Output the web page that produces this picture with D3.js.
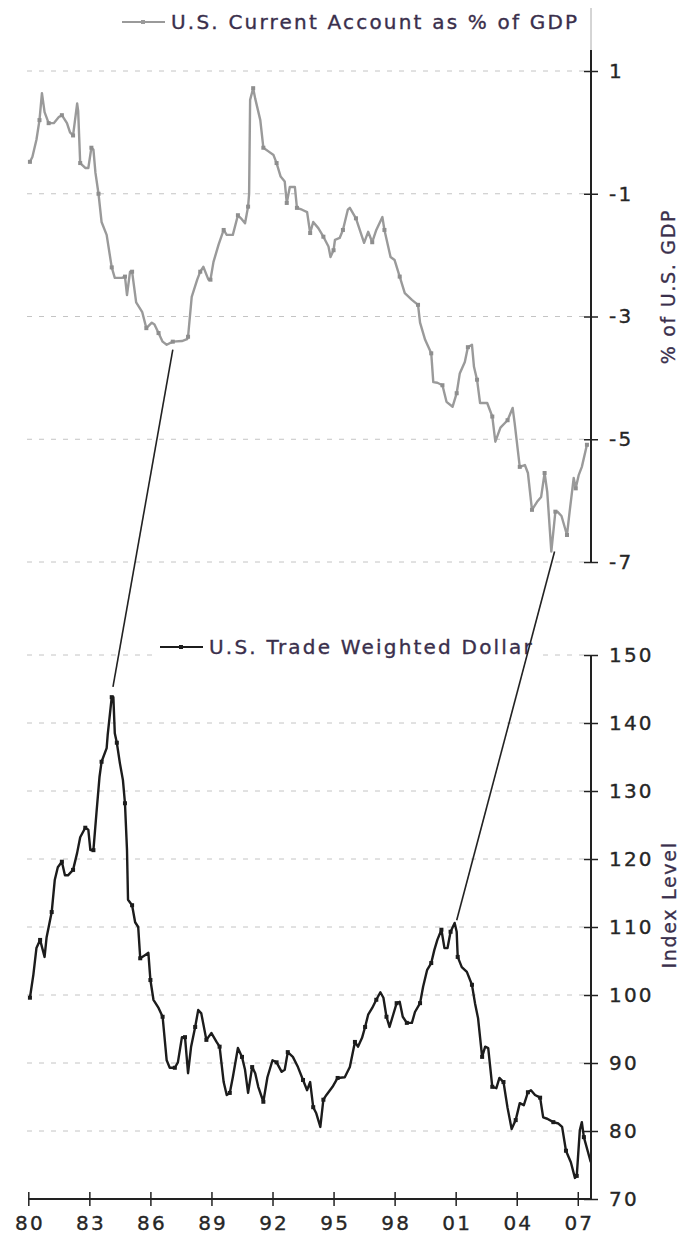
<!DOCTYPE html>
<html><head><meta charset="utf-8">
<script src="https://cdn.jsdelivr.net/npm/d3@7"></script>
<style>
body{margin:0;background:#fff}
svg text{font-family:"DejaVu Sans",Verdana,sans-serif}
</style>
</head><body>
<svg id="c" width="691" height="1239"></svg>
<script>
// ---- data ----
const caYears=[1980.08,1980.2,1980.4,1980.55,1980.67,1980.8,1981.0,1981.25,1981.5,1981.65,1981.9,1982.05,1982.2,1982.4,1982.45,1982.55,1982.8,1982.95,1983.1,1983.2,1983.3,1983.45,1983.6,1983.85,1984.1,1984.25,1984.6,1984.75,1984.85,1985.0,1985.1,1985.3,1985.6,1985.8,1986.07,1986.2,1986.4,1986.6,1986.8,1987.1,1987.55,1987.8,1987.85,1988.03,1988.3,1988.45,1988.6,1988.85,1988.95,1989.1,1989.35,1989.6,1989.75,1990.05,1990.3,1990.45,1990.65,1990.8,1990.85,1990.9,1991.05,1991.15,1991.4,1991.55,1991.8,1992.05,1992.2,1992.4,1992.6,1992.7,1992.85,1993.1,1993.2,1993.45,1993.7,1993.85,1994.0,1994.25,1994.5,1994.75,1994.85,1995.0,1995.07,1995.3,1995.46,1995.7,1995.8,1996.1,1996.5,1996.7,1996.9,1997.1,1997.4,1997.5,1997.8,1998.0,1998.25,1998.5,1998.85,1999.15,1999.25,1999.5,1999.8,1999.9,2000.1,2000.35,2000.55,2000.85,2001.05,2001.2,2001.45,2001.6,2001.8,2001.9,2002.05,2002.2,2002.55,2002.8,2002.95,2003.2,2003.55,2003.8,2003.9,2004.15,2004.4,2004.55,2004.75,2005.0,2005.2,2005.37,2005.5,2005.7,2005.9,2006.0,2006.2,2006.47,2006.6,2006.8,2006.9,2007.05,2007.2,2007.45];
const caValues=[-0.48,-0.4,-0.12,0.2,0.64,0.33,0.15,0.15,0.25,0.28,0.15,0.0,-0.05,0.47,0.35,-0.5,-0.58,-0.58,-0.25,-0.28,-0.66,-1.0,-1.46,-1.67,-2.2,-2.37,-2.37,-2.35,-2.65,-2.27,-2.27,-2.77,-2.93,-3.19,-3.1,-3.13,-3.27,-3.41,-3.46,-3.41,-3.4,-3.37,-3.33,-2.68,-2.4,-2.27,-2.19,-2.4,-2.4,-2.11,-1.83,-1.59,-1.67,-1.67,-1.35,-1.4,-1.48,-1.21,-1.0,0.53,0.72,0.55,0.2,-0.25,-0.31,-0.37,-0.5,-0.72,-0.8,-1.15,-0.89,-0.89,-1.23,-1.26,-1.3,-1.64,-1.46,-1.56,-1.7,-1.86,-2.03,-1.92,-1.75,-1.72,-1.59,-1.26,-1.23,-1.4,-1.8,-1.62,-1.79,-1.59,-1.38,-1.59,-2.03,-2.08,-2.35,-2.62,-2.73,-2.81,-3.1,-3.38,-3.6,-4.07,-4.08,-4.12,-4.39,-4.47,-4.25,-3.93,-3.74,-3.5,-3.46,-3.82,-4.03,-4.41,-4.41,-4.63,-5.04,-4.81,-4.69,-4.49,-4.74,-5.45,-5.42,-5.55,-6.15,-6.02,-5.94,-5.55,-5.86,-6.83,-6.18,-6.18,-6.25,-6.56,-6.18,-5.63,-5.8,-5.58,-5.45,-5.09];

const twYears=[1980.08,1980.25,1980.4,1980.58,1980.8,1980.9,1981.15,1981.3,1981.45,1981.65,1981.8,1981.95,1982.2,1982.4,1982.55,1982.8,1982.95,1983.05,1983.2,1983.35,1983.5,1983.6,1983.85,1983.9,1984.1,1984.18,1984.25,1984.35,1984.5,1984.65,1984.75,1984.85,1984.9,1985.1,1985.25,1985.4,1985.5,1985.75,1985.9,1986.0,1986.15,1986.4,1986.6,1986.8,1986.95,1987.2,1987.35,1987.55,1987.7,1987.85,1988.0,1988.2,1988.35,1988.5,1988.75,1989.0,1989.25,1989.4,1989.6,1989.75,1989.9,1990.05,1990.3,1990.5,1990.65,1990.8,1991.0,1991.15,1991.3,1991.55,1991.75,1992.0,1992.2,1992.45,1992.6,1992.75,1993.0,1993.25,1993.5,1993.7,1993.85,1994.0,1994.15,1994.35,1994.5,1994.65,1994.95,1995.2,1995.55,1995.8,1996.05,1996.2,1996.4,1996.55,1996.7,1996.9,1997.1,1997.3,1997.45,1997.6,1997.75,1997.9,1998.1,1998.25,1998.4,1998.6,1998.85,1999.0,1999.25,1999.4,1999.6,1999.8,1999.95,2000.1,2000.3,2000.45,2000.6,2000.75,2000.95,2001.05,2001.1,2001.3,2001.55,2001.8,2001.95,2002.1,2002.3,2002.45,2002.6,2002.8,2003.0,2003.15,2003.35,2003.55,2003.75,2003.95,2004.15,2004.35,2004.55,2004.7,2004.9,2005.15,2005.3,2005.5,2005.8,2006.05,2006.23,2006.42,2006.66,2006.86,2006.95,2007.1,2007.2,2007.3,2007.64];
const twValues=[99.6,103,106.9,108.1,105.6,108.5,112.2,116.9,118.8,119.6,117.6,117.6,118.4,120.9,123.2,124.6,124.3,121.3,121.3,126.8,132.1,134.3,136.3,138.2,143.8,143.8,138.5,137.1,134.1,131.6,128.2,121.3,114,113.2,110.7,110,105.4,105.9,106.2,102.2,99.3,98.1,96.8,90.4,89.3,89.3,90.1,93.8,93.8,88.5,92.4,95.3,97.8,97.3,93.4,94.4,93.1,92.4,87.2,85.3,85.6,87.9,92.2,90.9,89,85.6,89.4,88.5,86.5,84.3,87.9,90.4,90.1,88.7,89.0,91.6,90.9,89.4,87.5,86,87.2,83.5,82.6,80.6,84.6,85.3,86.5,87.8,87.9,89.4,93.1,92.4,93.7,95.3,97.1,98.1,99.3,100.4,99.6,96.8,95.3,96.8,98.8,99.0,96.8,95.9,95.9,97.5,98.8,101.2,103.7,104.7,106.6,108.1,109.6,106.9,106.9,109.3,110.6,109.3,105.6,104.1,103.4,101.5,98.8,96.6,90.9,92.4,92.2,86.5,86.3,87.8,87.2,83.4,80.3,81.6,84.1,83.8,85.7,86.0,85.3,84.9,82.0,81.8,81.3,81.1,80.6,77.1,75.4,73.1,73.4,80.1,81.3,79.1,75.4];

const caTicks=[1,-1,-3,-5,-7];
const caTickLabels=["1","-1","-3","-5","-7"];
const twTicks=[150,140,130,120,110,100,90,80,70];
const xTicks=[1980,1983,1986,1989,1992,1995,1998,2001,2004,2007];
const xTickLabels=["80","83","86","89","92","95","98","01","04","07"];
const legendLabels=["U.S. Current Account as % of GDP","U.S. Trade Weighted Dollar"];
const axisTitles=["% of U.S. GDP","Index Level"];
// connector lines: from a current-account point to a dollar point
const linkFromYears=[1987.1,2005.86], linkFromValues=[-3.54,-6.83];
const linkToYears=[1984.16,2001.05], linkToValues=[145.3,111.0];

// ---- layout ----
const svg=d3.select("#c");
const x=d3.scaleLinear().domain([1980,2007.65]).range([28.3,591]);
const yTop=d3.scaleLinear().domain([-7,1]).range([562,71]);
const yBot=d3.scaleLinear().domain([70,150]).range([1199,655]);
const xL=27, xR=x.range()[1];
const gridCol="#c4c4c4", labCol="#262626", titleCol="#3a2f4c";
const FS=20, LS=2.2;

// gridlines
svg.append("g").selectAll("line").data(caTicks).join("line")
  .attr("x1",xL).attr("x2",xR).attr("y1",d=>yTop(d)).attr("y2",d=>yTop(d))
  .attr("stroke",gridCol).attr("stroke-width",1).attr("stroke-dasharray","5,7");
svg.append("g").selectAll("line").data(twTicks.filter(d=>d>70)).join("line")
  .attr("x1",xL).attr("x2",xR).attr("y1",d=>yBot(d)).attr("y2",d=>yBot(d))
  .attr("stroke",gridCol).attr("stroke-width",1).attr("stroke-dasharray","5,7");

// series
const caData=d3.zip(caYears,caValues);
const twData=d3.zip(twYears,twValues);
const caCol="#9a9a9a", twCol="#1c1c1c";
svg.append("path").datum(caData)
  .attr("d",d3.line().x(d=>x(d[0])).y(d=>yTop(d[1])))
  .attr("fill","none").attr("stroke",caCol).attr("stroke-width",2.4).attr("stroke-linejoin","round");
svg.append("g").selectAll("rect").data(caData.filter((d,i)=>i%3===0)).join("rect")
  .attr("x",d=>x(d[0])-2).attr("y",d=>yTop(d[1])-2).attr("width",4).attr("height",4).attr("fill","#8e8e8e");
svg.append("path").datum(twData)
  .attr("d",d3.line().x(d=>x(d[0])).y(d=>yBot(d[1])))
  .attr("fill","none").attr("stroke",twCol).attr("stroke-width",2.4).attr("stroke-linejoin","round");
svg.append("g").selectAll("rect").data(twData.filter((d,i)=>i%3===0)).join("rect")
  .attr("x",d=>x(d[0])-2).attr("y",d=>yBot(d[1])-2).attr("width",4).attr("height",4).attr("fill",twCol);

// legends
function legend(lx,ly,col,label,bg){
  const g=svg.append("g");
  if(bg){ g.append("rect").attr("x",lx-8).attr("y",ly-11).attr("width",386).attr("height",23).attr("fill","#fff"); }
  g.append("line").attr("x1",lx).attr("x2",lx+43).attr("y1",ly).attr("y2",ly).attr("stroke",col).attr("stroke-width",2);
  g.append("rect").attr("x",lx+19).attr("y",ly-2).attr("width",4).attr("height",4).attr("fill",col);
  g.append("text").attr("x",lx+49).attr("y",ly+7).attr("font-size",FS).attr("letter-spacing",LS)
    .attr("fill",titleCol).attr("stroke",titleCol).attr("stroke-width",0.35).text(label);
}
legend(122,22,caCol,legendLabels[0],false);
legend(160,647,twCol,legendLabels[1],true);

// right axes
function styleAxis(g){
  g.select(".domain").remove();
  g.selectAll(".tick line").attr("x1",-7).attr("stroke","#222").attr("stroke-width",1.5);
  g.selectAll(".tick text").attr("font-size",FS).attr("letter-spacing",LS).attr("fill",labCol)
    .attr("stroke",labCol).attr("stroke-width",0.35).attr("font-family","DejaVu Sans");
}
svg.append("line").attr("x1",xR).attr("x2",xR).attr("y1",8).attr("y2",50).attr("stroke","#aaa").attr("stroke-width",1);
svg.append("line").attr("x1",xR).attr("x2",xR).attr("y1",50).attr("y2",yTop(-7)).attr("stroke","#222").attr("stroke-width",2);
svg.append("g").attr("transform",`translate(${xR},0)`)
  .call(d3.axisRight(yTop).tickValues(caTicks).tickSize(7).tickPadding(11).tickFormat((d,i)=>caTickLabels[i]))
  .call(styleAxis);
svg.append("line").attr("x1",xR).attr("x2",xR).attr("y1",yBot(150)).attr("y2",yBot(70)).attr("stroke","#222").attr("stroke-width",2);
svg.append("g").attr("transform",`translate(${xR},0)`)
  .call(d3.axisRight(yBot).tickValues(twTicks).tickSize(7).tickPadding(11))
  .call(styleAxis);

// x axis
svg.append("line").attr("x1",x(1980)).attr("x2",xR).attr("y1",yBot(70)).attr("y2",yBot(70)).attr("stroke","#222").attr("stroke-width",2);
svg.append("g").attr("transform",`translate(0,${yBot(70)})`)
  .call(d3.axisBottom(x).tickValues(xTicks).tickSize(7).tickPadding(10).tickFormat((d,i)=>xTickLabels[i]))
  .call(g=>{
    g.select(".domain").remove();
    g.selectAll(".tick line").attr("y1",-7).attr("stroke","#222").attr("stroke-width",1.5);
    g.selectAll(".tick text").attr("font-size",FS).attr("letter-spacing",LS).attr("fill",labCol)
      .attr("stroke",labCol).attr("stroke-width",0.35).attr("font-family","DejaVu Sans").attr("dx",LS/2);
  });

// axis titles
svg.append("text").attr("transform","translate(675,286.5) rotate(-90)").attr("text-anchor","middle")
  .attr("font-size",19).attr("letter-spacing",1.7).attr("fill",titleCol).attr("stroke",titleCol).attr("stroke-width",0.3).text(axisTitles[0]);
svg.append("text").attr("transform","translate(676,905) rotate(-90)").attr("text-anchor","middle")
  .attr("font-size",19).attr("letter-spacing",1.7).attr("fill",titleCol).attr("stroke",titleCol).attr("stroke-width",0.3).text(axisTitles[1]);

// connectors
svg.append("g").selectAll("line").data(d3.range(linkFromYears.length)).join("line")
  .attr("x1",i=>x(linkFromYears[i])).attr("y1",i=>yTop(linkFromValues[i]))
  .attr("x2",i=>x(linkToYears[i])).attr("y2",i=>yBot(linkToValues[i]))
  .attr("stroke","#222").attr("stroke-width",1.6);
</script>
</body></html>
